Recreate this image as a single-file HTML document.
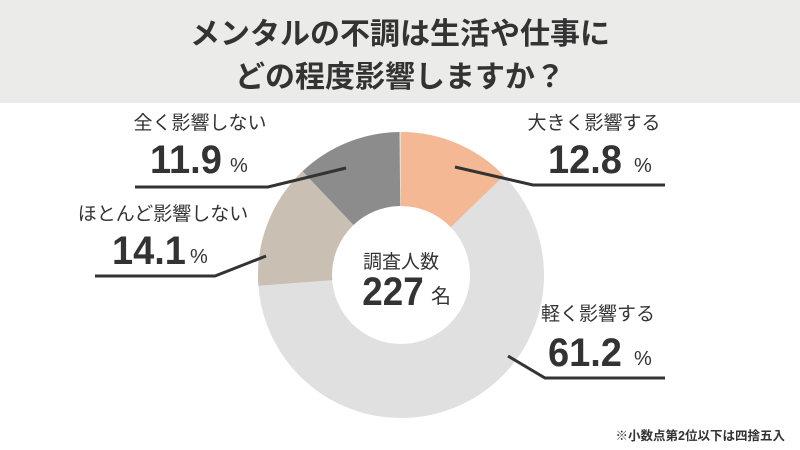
<html><head><style>body{margin:0;width:800px;height:450px;background:#fff;overflow:hidden}</style></head><body>
<svg width="800" height="450" xmlns="http://www.w3.org/2000/svg" style="font-family:'Liberation Sans','Noto Sans CJK JP',sans-serif;fill:#333">
<rect x="0" y="0" width="800" height="103" fill="#ebebea"/>
<text x="400" y="44" font-size="30" font-weight="bold" text-anchor="middle">メンタルの不調は生活や仕事に</text>
<text x="400" y="87" font-size="30" font-weight="bold" text-anchor="middle">どの程度影響しますか？</text>
<g transform="translate(401,275)">
<circle r="106" fill="none" stroke="#e0e0e0" stroke-width="74"/>
<circle r="106" fill="none" stroke="#f4b994" stroke-width="74" stroke-dasharray="85.2 1000" transform="rotate(-90)"/>
<circle r="106" fill="none" stroke="#cabfb3" stroke-width="74" stroke-dasharray="93.9 1000" transform="rotate(175.7)"/>
<circle r="106" fill="none" stroke="#8c8c8c" stroke-width="74" stroke-dasharray="79.3 1000" transform="rotate(226.5)"/>
</g>
<g fill="none" stroke="#333" stroke-width="3">
<polyline points="455,167 533,185 665,185"/>
<polyline points="346,168 268,187 135,187"/>
<polyline points="266,256 215,276 95,276"/>
<polyline points="508,356 545,378 665,378"/>
</g>
<text x="401" y="268" font-size="19" text-anchor="middle">調査人数</text>
<text x="393" y="305" font-size="40" font-weight="bold" text-anchor="middle" transform="translate(393,0) scale(0.92,1) translate(-393,0)">227</text>
<text x="441" y="303" font-size="20" text-anchor="middle">名</text>
<g font-size="19">
<text x="594" y="129" text-anchor="middle">大きく影響する</text>
<text x="200" y="129" text-anchor="middle">全く影響しない</text>
<text x="163" y="220" text-anchor="middle">ほとんど影響しない</text>
<text x="598" y="320" text-anchor="middle">軽く影響する</text>
</g>
<g font-size="40" font-weight="bold">
<text x="548" y="173" transform="translate(548,0) scale(0.95,1) translate(-548,0)">12.8</text>
<text x="150" y="173" transform="translate(150,0) scale(0.95,1) translate(-150,0)">11.9</text>
<text x="112" y="264" transform="translate(112,0) scale(0.95,1) translate(-112,0)">14.1</text>
<text x="548" y="366" transform="translate(548,0) scale(0.95,1) translate(-548,0)">61.2</text>
</g>
<g font-size="20">
<text x="634" y="172">%</text>
<text x="230" y="172">%</text>
<text x="190" y="263">%</text>
<text x="634" y="365">%</text>
</g>
<text x="785" y="440" font-size="12.5" font-weight="bold" text-anchor="end">※小数点第2位以下は四捨五入</text>
</svg>
</body></html>
